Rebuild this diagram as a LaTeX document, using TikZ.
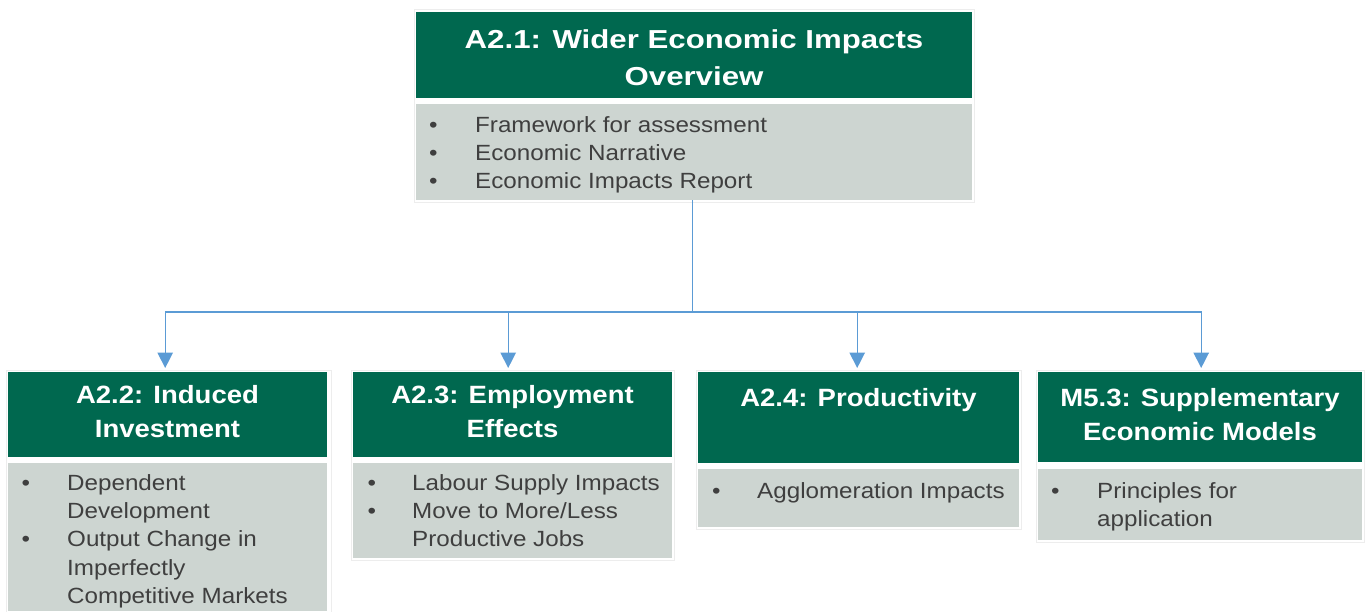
\documentclass[tikz,border=0pt]{standalone}
\usepackage{fontspec}
\setmainfont{Liberation Sans}[FakeStretch=1.1]
\newfontfamily\topfont{Liberation Sans}[FakeStretch=1.2]
\usetikzlibrary{arrows.meta}
\definecolor{hdrgreen}{HTML}{00684F}
\definecolor{bodygray}{HTML}{CDD5D1}
\definecolor{bodytext}{HTML}{3F3F3F}
\definecolor{linkblue}{HTML}{5B9BD5}
\definecolor{framegray}{HTML}{EDEDED}
\begin{document}
\begin{tikzpicture}[x=1pt,y=-1pt,
  hdr/.style={rectangle, fill=hdrgreen, draw=none, anchor=north west, inner sep=0},
  bodybox/.style={rectangle, fill=bodygray, draw=none, anchor=north west, inner sep=0},
  ttl/.style={anchor=north, inner sep=0, text=white, font=\fontsize{25}{34}\selectfont\bfseries},
  items/.style={anchor=north west, inner sep=0, text=bodytext, font=\fontsize{22}{28.3}\selectfont},
  link/.style={draw=linkblue, line width=1.3pt},
  arr/.style={link, -{Triangle[length=15.5pt,width=15.5pt]}, shorten >=4pt},
  outline/.style={draw=framegray, line width=0.7pt}
]
\useasboundingbox (0,0) rectangle (1367,611);

% faint outlines
\draw[outline] (414,9.5) rectangle (974,202.5);
\draw[outline] (6,370) rectangle (331,615);
\draw[outline] (351,370) rectangle (674,560.5);
\draw[outline] (696,370) rectangle (1021,529.5);
\draw[outline] (1036,370) rectangle (1364,542.5);

% top box
\node[hdr, minimum width=556, minimum height=86] (th) at (416,12) {};
\node[bodybox, minimum width=556, minimum height=96] (tb) at (416,104) {};
\node[ttl, font=\topfont\fontsize{26}{37}\selectfont\bfseries] (tt) at (694,22.1)
  {\begin{tabular}{@{}c@{}}A2.1: Wider Economic Impacts\\Overview\end{tabular}};
\node[items] (tx) at (429,112.2)
  {\begin{tabular}{@{}p{46pt}@{}l@{}}
   \textbullet & Framework for assessment\\
   \textbullet & Economic Narrative\\
   \textbullet & Economic Impacts Report
   \end{tabular}};

% bottom boxes
\node[hdr, minimum width=319, minimum height=85] (h1) at (8,372) {};
\node[bodybox, minimum width=319, minimum height=148] (b1) at (8,463) {};
\node[hdr, minimum width=319, minimum height=85] (h2) at (353,372) {};
\node[bodybox, minimum width=319, minimum height=95] (b2) at (353,463) {};
\node[hdr, minimum width=321, minimum height=91] (h3) at (698,372) {};
\node[bodybox, minimum width=321, minimum height=58] (b3) at (698,469) {};
\node[hdr, minimum width=324, minimum height=90] (h4) at (1038,372) {};
\node[bodybox, minimum width=324, minimum height=71] (b4) at (1038,469) {};

% titles
\node[ttl] (t1) at (167.5,379.2)
  {\begin{tabular}{@{}c@{}}A2.2: Induced\\Investment\end{tabular}};
\node[ttl] (t2) at (512.5,379.2)
  {\begin{tabular}{@{}c@{}}A2.3: Employment\\Effects\end{tabular}};
\node[ttl] (t3) at (858.5,382.2)
  {\begin{tabular}{@{}c@{}}A2.4: Productivity\end{tabular}};
\node[ttl] (t4) at (1200,382.2)
  {\begin{tabular}{@{}c@{}}M5.3: Supplementary\\Economic Models\end{tabular}};

% bullet lists
\node[items] (x1) at (21.5,470.2)
  {\begin{tabular}{@{}p{45.5pt}@{}l@{}}
   \textbullet & Dependent\\
               & Development\\
   \textbullet & Output Change in\\
               & Imperfectly\\
               & Competitive Markets
   \end{tabular}};
\node[items] (x2) at (367.5,470.2)
  {\begin{tabular}{@{}p{44.5pt}@{}l@{}}
   \textbullet & Labour Supply Impacts\\
   \textbullet & Move to More/Less\\
               & Productive Jobs
   \end{tabular}};
\node[items] (x3) at (712,478.2)
  {\begin{tabular}{@{}p{45pt}@{}l@{}}
   \textbullet & Agglomeration Impacts
   \end{tabular}};
\node[items] (x4) at (1051,478.2)
  {\begin{tabular}{@{}p{46pt}@{}l@{}}
   \textbullet & Principles for\\
               & application
   \end{tabular}};

% connectors
\coordinate (busy) at (0,312);
\draw[link] ([xshift=-2pt]tb.south) -- ([xshift=-2pt]tb.south |- busy) coordinate (hub);
\draw[arr] (hub) -| ([xshift=-2.5pt]h1.north);
\draw[arr] (hub) -| ([xshift=-4.5pt]h2.north);
\draw[arr] (hub) -| ([xshift=-1.5pt]h3.north);
\draw[arr] (hub) -| ([xshift=1pt]h4.north);
\end{tikzpicture}
\end{document}
